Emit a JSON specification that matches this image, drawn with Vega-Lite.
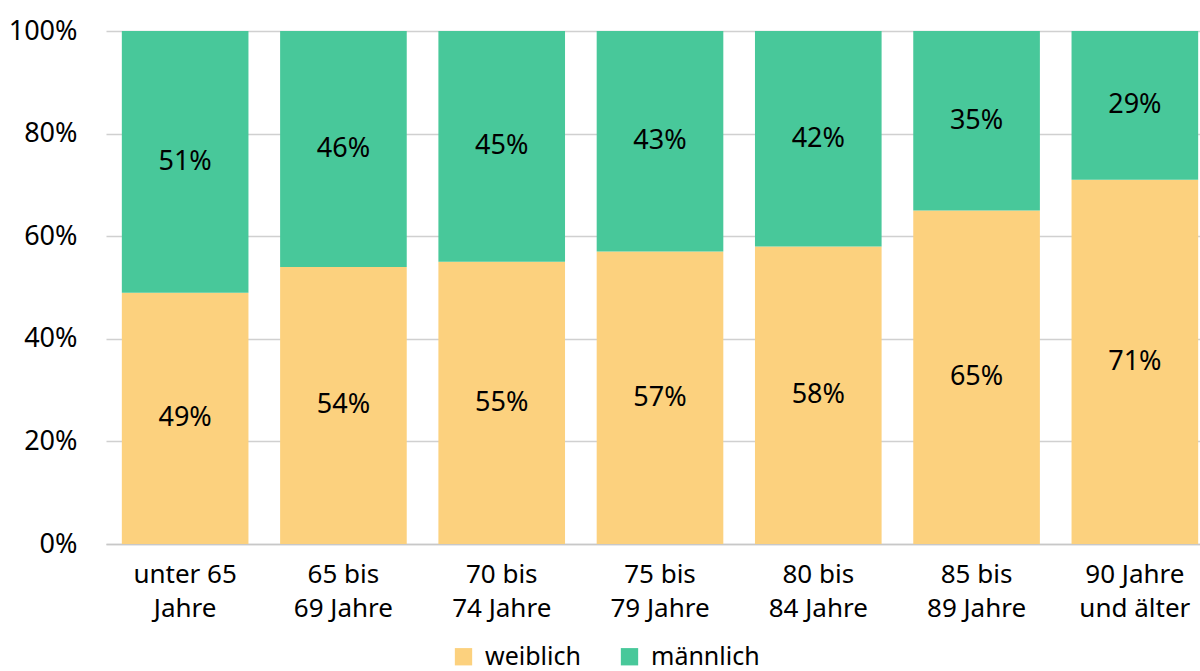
{
  "$schema": "https://vega.github.io/schema/vega-lite/v6.json",
  "width": 1108,
  "height": 513,
  "autosize": {"type": "none"},
  "padding": {"left": 106, "top": 31, "right": -14, "bottom": 127},
  "config": {
    "font": "Noto Sans",
    "view": {"stroke": null},
    "axis": {"labelFont": "Noto Sans", "labelFontSize": 27, "labelColor": "#000000"}
  },
  "data": {
    "values": [
      {"gruppe": "unter 65|Jahre", "geschlecht": "weiblich", "anteil": 0.49},
      {"gruppe": "unter 65|Jahre", "geschlecht": "männlich", "anteil": 0.51},
      {"gruppe": "65 bis|69 Jahre", "geschlecht": "weiblich", "anteil": 0.54},
      {"gruppe": "65 bis|69 Jahre", "geschlecht": "männlich", "anteil": 0.46},
      {"gruppe": "70 bis|74 Jahre", "geschlecht": "weiblich", "anteil": 0.55},
      {"gruppe": "70 bis|74 Jahre", "geschlecht": "männlich", "anteil": 0.45},
      {"gruppe": "75 bis|79 Jahre", "geschlecht": "weiblich", "anteil": 0.57},
      {"gruppe": "75 bis|79 Jahre", "geschlecht": "männlich", "anteil": 0.43},
      {"gruppe": "80 bis|84 Jahre", "geschlecht": "weiblich", "anteil": 0.58},
      {"gruppe": "80 bis|84 Jahre", "geschlecht": "männlich", "anteil": 0.42},
      {"gruppe": "85 bis|89 Jahre", "geschlecht": "weiblich", "anteil": 0.65},
      {"gruppe": "85 bis|89 Jahre", "geschlecht": "männlich", "anteil": 0.35},
      {"gruppe": "90 Jahre|und älter", "geschlecht": "weiblich", "anteil": 0.71},
      {"gruppe": "90 Jahre|und älter", "geschlecht": "männlich", "anteil": 0.29}
    ]
  },
  "encoding": {
    "x": {
      "field": "gruppe",
      "type": "nominal",
      "sort": null,
      "scale": {"paddingInner": 0.2, "paddingOuter": 0.1},
      "axis": {
        "title": null,
        "labelAngle": 0,
        "labelExpr": "split(datum.label, '|')",
        "labelFontSize": 26,
        "labelLineHeight": 34,
        "labelPadding": 17,
        "labelBaseline": "top",
        "ticks": false,
        "domainColor": "#c8c8c8",
        "domainWidth": 1.5
      }
    },
    "y": {
      "field": "anteil",
      "type": "quantitative",
      "stack": "normalize",
      "scale": {"domain": [0, 1]},
      "axis": {
        "title": null,
        "values": [0, 0.2, 0.4, 0.6, 0.8, 1],
        "format": ".0%",
        "domain": false,
        "ticks": false,
        "labelPadding": 29,
        "gridColor": "#d0d0d0",
        "gridWidth": 1.5
      }
    },
    "order": {"field": "geschlecht", "sort": "descending"}
  },
  "layer": [
    {
      "mark": {"type": "bar"},
      "encoding": {
        "color": {
          "field": "geschlecht",
          "type": "nominal",
          "scale": {"domain": ["weiblich", "männlich"], "range": ["#FCD17E", "#48C89A"]},
          "legend": {
            "title": null,
            "orient": "none",
            "direction": "horizontal",
            "legendX": 345,
            "legendY": 613,
            "symbolType": "square",
            "symbolSize": 300,
            "symbolStrokeWidth": 0,
            "labelFontSize": 25,
            "labelFont": "Noto Sans",
            "labelColor": "#000000",
            "labelOffset": 9,
            "columnPadding": 36,
            "padding": 0
          }
        }
      }
    },
    {
      "mark": {"type": "text", "fontSize": 27, "color": "#000000", "font": "Noto Sans"},
      "encoding": {
        "y": {"field": "anteil", "type": "quantitative", "stack": "normalize", "bandPosition": 0.5},
        "text": {"field": "anteil", "type": "quantitative", "format": ".0%"}
      }
    }
  ]
}
